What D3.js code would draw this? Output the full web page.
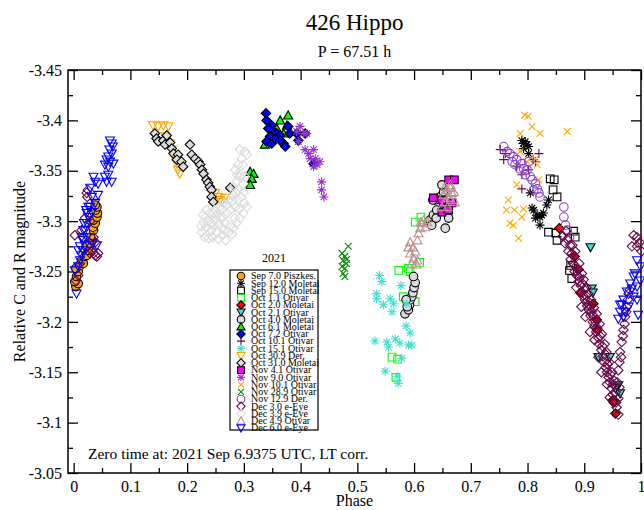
<!DOCTYPE html>
<html>
<head>
<meta charset="utf-8">
<script src="https://cdn.jsdelivr.net/npm/d3@7"></script>
<style>
  html, body { margin: 0; padding: 0; background: #fff; }
  svg text { font-family: "Liberation Serif", "Times New Roman", serif; fill: #000; }
</style>
</head>
<body>
<svg id="chart" width="644" height="510"></svg>
<script>
// ---- Lightcurve of 426 Hippo, folded with P = 67.51 h ----
// Each session: [phase, relative magnitude]

const sep07Piszkes = [[0.004,-3.235],[0.008,-3.238],[0.002,-3.240],[0.005,-3.245],[0.008,-3.250],[0.004,-3.253],[0.011,-3.256],[0.014,-3.261],[0.017,-3.258],[0.020,-3.265],[0.023,-3.266],[0.026,-3.271],[0.022,-3.275],[0.029,-3.278],[0.032,-3.281],[0.030,-3.284],[0.035,-3.291],[0.034,-3.294],[0.038,-3.298],[0.035,-3.301],[0.041,-3.304],[0.042,-3.308],[0.039,-3.311],[0.041,-3.314],[0.038,-3.316]];

const sep12Moletai = [[0.790,-3.380],[0.793,-3.377],[0.796,-3.379],[0.799,-3.376],[0.793,-3.372],[0.802,-3.374],[0.802,-3.367],[0.805,-3.328],[0.808,-3.313],[0.811,-3.311],[0.817,-3.306],[0.822,-3.304],[0.825,-3.306],[0.828,-3.308],[0.822,-3.296],[0.814,-3.303],[0.834,-3.316],[0.837,-3.321]];

const sep15Moletai = [[0.840,-3.342],[0.847,-3.341],[0.845,-3.331],[0.852,-3.324],[0.837,-3.289],[0.852,-3.281],[0.850,-3.288],[0.881,-3.290],[0.884,-3.284],[0.876,-3.256],[0.878,-3.243],[0.874,-3.251]];

const oct01Otivar = [[0.602,-3.299],[0.612,-3.304],[0.573,-3.251],[0.590,-3.253],[0.610,-3.259],[0.581,-3.225],[0.602,-3.220],[0.561,-3.165],[0.571,-3.163],[0.568,-3.145],[0.593,-3.250]];

const oct02Moletai = [[0.856,-3.293],[0.883,-3.265],[0.890,-3.252],[0.893,-3.229],[0.916,-3.218],[0.922,-3.202],[0.923,-3.192],[0.950,-3.122],[0.952,-3.120],[0.955,-3.109]];

const oct02Otivar = [[0.911,-3.274],[0.913,-3.233],[0.915,-3.229],[0.925,-3.165],[0.945,-3.165],[0.960,-3.137],[0.963,-3.129],[0.955,-3.134]];

const oct04Moletai = [[0.584,-3.208],[0.590,-3.212],[0.592,-3.217],[0.593,-3.222],[0.596,-3.225],[0.598,-3.229],[0.600,-3.234],[0.602,-3.239],[0.599,-3.245],[0.588,-3.215],[0.586,-3.222],[0.628,-3.301],[0.634,-3.306],[0.631,-3.296],[0.640,-3.311],[0.637,-3.321],[0.646,-3.324],[0.652,-3.329],[0.649,-3.336],[0.655,-3.293],[0.661,-3.303],[0.633,-3.321],[0.639,-3.303]];

const oct06Moletai = [[0.311,-3.349],[0.317,-3.347],[0.314,-3.342],[0.311,-3.336],[0.364,-3.400],[0.378,-3.405],[0.376,-3.395],[0.358,-3.392],[0.343,-3.380],[0.337,-3.376],[0.349,-3.385],[0.370,-3.387]];

const oct07Otivar = [[0.339,-3.407],[0.340,-3.400],[0.349,-3.395],[0.343,-3.392],[0.352,-3.389],[0.358,-3.387],[0.364,-3.385],[0.346,-3.384],[0.340,-3.379],[0.349,-3.377],[0.370,-3.377],[0.373,-3.374],[0.378,-3.394],[0.381,-3.387],[0.393,-3.387],[0.396,-3.380],[0.408,-3.387],[0.423,-3.357],[0.355,-3.382],[0.364,-3.380]];

const oct10Otivar = [[0.752,-3.371],[0.761,-3.367],[0.758,-3.361],[0.781,-3.354],[0.790,-3.332],[0.814,-3.359],[0.820,-3.367],[0.810,-3.361],[0.802,-3.351],[0.790,-3.346]];

const oct15Otivar = [[0.539,-3.246],[0.543,-3.240],[0.534,-3.228],[0.534,-3.223],[0.546,-3.217],[0.558,-3.223],[0.564,-3.218],[0.561,-3.210],[0.577,-3.236],[0.587,-3.218],[0.586,-3.196],[0.593,-3.189],[0.531,-3.181],[0.552,-3.180],[0.555,-3.175],[0.567,-3.183],[0.575,-3.179],[0.590,-3.177],[0.596,-3.177],[0.578,-3.164],[0.549,-3.151],[0.570,-3.146],[0.572,-3.139]];

const oct30Der = [[0.140,-3.395],[0.149,-3.394],[0.158,-3.395],[0.167,-3.394],[0.161,-3.384],[0.170,-3.377],[0.173,-3.371],[0.176,-3.364],[0.182,-3.357],[0.184,-3.351],[0.187,-3.347],[0.249,-3.328],[0.255,-3.324],[0.258,-3.321],[0.267,-3.323],[0.261,-3.319]];

const oct31Moletai = [[0.143,-3.387],[0.146,-3.382],[0.149,-3.379],[0.158,-3.380],[0.161,-3.376],[0.170,-3.378],[0.173,-3.372],[0.176,-3.367],[0.184,-3.366],[0.182,-3.361],[0.190,-3.359],[0.193,-3.354],[0.164,-3.385],[0.205,-3.376],[0.208,-3.366],[0.214,-3.362],[0.220,-3.359],[0.223,-3.356],[0.226,-3.351],[0.229,-3.347],[0.234,-3.341],[0.237,-3.338],[0.240,-3.334],[0.243,-3.331],[0.243,-3.324],[0.246,-3.319],[0.276,-3.333]];

const nov04Otivar = [[0.661,-3.341],[0.634,-3.323],[0.652,-3.314],[0.649,-3.309],[0.667,-3.318],[0.658,-3.313],[0.671,-3.341],[0.649,-3.321],[0.661,-3.311]];

const nov09Otivar = [[0.393,-3.389],[0.399,-3.394],[0.405,-3.387],[0.396,-3.379],[0.408,-3.371],[0.414,-3.367],[0.423,-3.371],[0.417,-3.362],[0.426,-3.362],[0.429,-3.356],[0.423,-3.354],[0.434,-3.359],[0.437,-3.339],[0.437,-3.331],[0.441,-3.324],[0.411,-3.387]];

const nov10Otivar = [[0.795,-3.405],[0.801,-3.404],[0.808,-3.394],[0.822,-3.387],[0.787,-3.387],[0.787,-3.369],[0.799,-3.359],[0.814,-3.362],[0.781,-3.336],[0.766,-3.321],[0.763,-3.311],[0.777,-3.311],[0.793,-3.312],[0.790,-3.304],[0.769,-3.298],[0.775,-3.296],[0.784,-3.283],[0.820,-3.341],[0.817,-3.356],[0.870,-3.389]];

const nov28Otivar = [[0.484,-3.275],[0.473,-3.268],[0.478,-3.265],[0.475,-3.261],[0.481,-3.258],[0.473,-3.255],[0.478,-3.253],[0.475,-3.248],[0.478,-3.245],[0.481,-3.262]];

const nov12Der = [[0.758,-3.374],[0.764,-3.369],[0.769,-3.367],[0.775,-3.364],[0.781,-3.361],[0.778,-3.356],[0.790,-3.357],[0.793,-3.352],[0.799,-3.351],[0.796,-3.346],[0.805,-3.344],[0.808,-3.341],[0.814,-3.337],[0.817,-3.332],[0.820,-3.328],[0.822,-3.324],[0.811,-3.331],[0.802,-3.359],[0.786,-3.352],[0.773,-3.359],[0.864,-3.314],[0.864,-3.304],[0.867,-3.296],[0.870,-3.291],[0.874,-3.284]];

const dec03EEye = [[0.002,-3.286],[0.025,-3.331],[0.023,-3.328],[0.024,-3.324],[0.020,-3.303],[0.029,-3.300],[0.035,-3.284],[0.038,-3.279],[0.032,-3.271],[0.035,-3.268],[0.038,-3.266],[0.041,-3.265],[0.043,-3.268],[0.029,-3.268],[0.011,-3.258],[0.008,-3.246],[0.004,-3.241],[0.017,-3.284],[0.014,-3.291],
  [0.862,-3.285],[0.866,-3.278],[0.870,-3.282],[0.872,-3.270],[0.875,-3.276],[0.876,-3.262],[0.878,-3.268],[0.880,-3.258],[0.882,-3.265],[0.883,-3.250],[0.885,-3.255],[0.887,-3.246],[0.889,-3.252],[0.890,-3.240],[0.892,-3.244],[0.894,-3.236],[0.895,-3.230],[0.897,-3.238],[0.898,-3.226],[0.900,-3.232],[0.901,-3.222],[0.903,-3.226],[0.905,-3.216],[0.906,-3.221],[0.908,-3.212],[0.910,-3.216],[0.911,-3.206],[0.913,-3.210],[0.915,-3.200],[0.916,-3.206],[0.918,-3.196],[0.920,-3.200],[0.921,-3.190],[0.923,-3.194],[0.925,-3.184],[0.926,-3.178],[0.928,-3.186],[0.930,-3.172],[0.932,-3.176],[0.933,-3.166],[0.935,-3.160],[0.937,-3.168],[0.938,-3.155],[0.940,-3.150],[0.941,-3.158],[0.943,-3.145],[0.945,-3.140],[0.946,-3.148],[0.948,-3.134],[0.950,-3.128],[0.951,-3.138],[0.953,-3.122],[0.955,-3.130],[0.957,-3.115],[0.960,-3.108],[0.960,-3.124],
  [0.895,-3.215],[0.910,-3.190],[0.925,-3.165],[0.940,-3.138],[0.930,-3.150],[0.945,-3.125],[0.886,-3.234],[0.902,-3.205],[0.918,-3.182],
  [0.868,-3.290],[0.879,-3.276],[0.884,-3.270],[0.891,-3.258],[0.896,-3.248],[0.899,-3.242],[0.904,-3.234],[0.907,-3.228],[0.912,-3.222],[0.917,-3.214],[0.922,-3.208],[0.927,-3.198],[0.931,-3.188],[0.936,-3.178],[0.939,-3.170],[0.944,-3.160],[0.949,-3.150],[0.952,-3.142],[0.956,-3.120],
  [0.958,-3.140],[0.960,-3.152],[0.962,-3.160],[0.963,-3.170],[0.965,-3.165],[0.966,-3.180],[0.968,-3.186],[0.969,-3.192],[0.971,-3.198],[0.972,-3.205],[0.974,-3.210],[0.975,-3.215],[0.977,-3.222],[0.978,-3.228],[0.980,-3.232],[0.962,-3.135],
  [0.987,-3.286],[0.993,-3.284],[0.984,-3.275],[0.993,-3.275],[0.998,-3.279],[1.001,-3.270]];

const dec03_9EEye = [[0.293,-3.371],[0.302,-3.369],[0.305,-3.366],[0.296,-3.362],[0.290,-3.356],[0.285,-3.351],[0.293,-3.344],[0.287,-3.339],[0.281,-3.334],[0.290,-3.331],[0.279,-3.326],[0.273,-3.321],[0.264,-3.318],[0.258,-3.314],[0.249,-3.311],[0.240,-3.308],[0.232,-3.304],[0.229,-3.299],[0.234,-3.294],[0.243,-3.291],[0.252,-3.289],[0.261,-3.293],[0.267,-3.298],[0.276,-3.296],[0.281,-3.293],[0.287,-3.298],[0.293,-3.303],[0.299,-3.308],[0.305,-3.314],[0.270,-3.308],[0.258,-3.303],[0.249,-3.301],[0.252,-3.306],[0.264,-3.304],[0.276,-3.311],[0.285,-3.314],[0.290,-3.321],[0.296,-3.324],[0.234,-3.311],[0.243,-3.298],[0.226,-3.289],[0.273,-3.289],[0.299,-3.337],[0.302,-3.344],
  [0.225,-3.295],[0.231,-3.284],[0.238,-3.283],[0.245,-3.284],[0.255,-3.282],[0.262,-3.286],[0.268,-3.281],[0.237,-3.300],[0.246,-3.296],[0.256,-3.297],[0.266,-3.291],[0.279,-3.287],[0.284,-3.303],[0.292,-3.312],[0.301,-3.318],[0.246,-3.308],[0.262,-3.312],[0.270,-3.316],[0.280,-3.320],[0.286,-3.328],[0.295,-3.346],[0.298,-3.356],[0.288,-3.346],[0.300,-3.329],[0.228,-3.306]];

const dec04Otivar = [[0.593,-3.279],[0.590,-3.274],[0.598,-3.274],[0.593,-3.268],[0.602,-3.270],[0.599,-3.263],[0.606,-3.261],[0.596,-3.258],[0.604,-3.257],[0.606,-3.281],[0.608,-3.288],[0.611,-3.293],[0.614,-3.298],[0.617,-3.301],[0.612,-3.299],[0.620,-3.294],[0.623,-3.299],[0.652,-3.326],[0.658,-3.331],[0.664,-3.333],[0.667,-3.328],[0.670,-3.329],[0.661,-3.323],[0.655,-3.319],[0.665,-3.321],[0.649,-3.314],[0.659,-3.314],[0.672,-3.319],[0.664,-3.336],[0.655,-3.334]];

const dec06EEye = [[0.005,-3.228],[0.002,-3.251],[0.008,-3.255],[0.011,-3.261],[0.014,-3.266],[0.017,-3.271],[0.020,-3.276],[0.016,-3.281],[0.023,-3.284],[0.020,-3.291],[0.023,-3.298],[0.026,-3.304],[0.022,-3.311],[0.029,-3.314],[0.032,-3.324],[0.029,-3.333],[0.043,-3.326],[0.035,-3.344],[0.038,-3.339],[0.043,-3.337],[0.055,-3.344],[0.061,-3.346],[0.067,-3.339],[0.058,-3.339],[0.064,-3.380],[0.067,-3.377],[0.063,-3.371],[0.067,-3.367],[0.061,-3.364],[0.058,-3.361],[0.064,-3.359],[0.070,-3.357],[0.055,-3.356],[0.061,-3.354],[0.069,-3.374],[0.034,-3.278],[0.041,-3.276],[0.011,-3.275],[0.008,-3.271],[0.014,-3.284],[0.017,-3.291],[0.018,-3.298],[0.026,-3.314],[0.023,-3.308],[0.032,-3.309],[0.038,-3.318],
  [0.993,-3.261],[0.999,-3.255],[0.987,-3.245],[0.981,-3.238],[0.984,-3.233],[0.975,-3.230],[0.969,-3.222],[0.966,-3.217],[0.963,-3.210],[0.972,-3.210],[0.978,-3.215],[0.987,-3.225],[0.993,-3.235],[0.999,-3.241],[0.960,-3.203],[0.969,-3.205],[0.989,-3.248],[0.995,-3.207],[0.993,-3.222],[0.963,-3.217]];

// Session labels, in drawing / legend order
const sessionLabels = ["Sep 7.0 Piszkes.","Sep 12.0 Moletai","Sep 15.0 Moletai","Oct 1.1 Otivar","Oct 2.0 Moletai","Oct 2.1 Otivar","Oct 4.0 Moletai","Oct 6.1 Moletai","Oct 7.2 Otivar","Oct 10.1 Otivar","Oct 15.1 Otivar","Oct 30.9 Der.","Oct 31.0 Moletai","Nov 4.1 Otivar","Nov 9.0 Otivar","Nov 10.1 Otivar","Nov 28.9 Otivar","Nov 12.9 Der.","Dec 3.0 e-Eye","Dec 3.9 e-Eye","Dec 4.9 Otivar","Dec 6.0 e-Eye"];
const sessionData = [sep07Piszkes, sep12Moletai, sep15Moletai, oct01Otivar, oct02Moletai, oct02Otivar, oct04Moletai, oct06Moletai, oct07Otivar, oct10Otivar, oct15Otivar, oct30Der, oct31Moletai, nov04Otivar, nov09Otivar, nov10Otivar, nov28Otivar, nov12Der, dec03EEye, dec03_9EEye, dec04Otivar, dec06EEye];

const xTicks = [0, 0.1, 0.2, 0.3, 0.4, 0.5, 0.6, 0.7, 0.8, 0.9, 1];
const yTicks = [-3.45, -3.4, -3.35, -3.3, -3.25, -3.2, -3.15, -3.1, -3.05];

// Marker styles per session: shape, fill, stroke
const markerStyles = [
  {shape:"circle",  fill:"#ffa500", stroke:"#000"},
  {shape:"star",    fill:"none",    stroke:"#000"},
  {shape:"square",  fill:"none",    stroke:"#000"},
  {shape:"square",  fill:"none",    stroke:"#00ff00"},
  {shape:"diamond", fill:"#ff0000", stroke:"#000"},
  {shape:"triDown", fill:"#40e0d0", stroke:"#000"},
  {shape:"circle",  fill:"#dcdcdc", stroke:"#000"},
  {shape:"triUp",   fill:"#00ff00", stroke:"#000"},
  {shape:"diamond", fill:"#0000ff", stroke:"#000"},
  {shape:"plus",    fill:"none",    stroke:"#670748"},
  {shape:"star",    fill:"none",    stroke:"#40e0d0"},
  {shape:"triDown", fill:"none",    stroke:"#ffa500"},
  {shape:"diamond", fill:"#dcdcdc", stroke:"#000"},
  {shape:"square",  fill:"#ff00ff", stroke:"#000"},
  {shape:"star",    fill:"none",    stroke:"#9932cc"},
  {shape:"cross",   fill:"none",    stroke:"#ffa500"},
  {shape:"cross",   fill:"none",    stroke:"#008b00"},
  {shape:"circle",  fill:"none",    stroke:"#8a3fd0"},
  {shape:"diamond", fill:"none",    stroke:"#670748"},
  {shape:"diamond", fill:"none",    stroke:"#dcdcdc"},
  {shape:"triUp",   fill:"none",    stroke:"#bc8f8f"},
  {shape:"triDown", fill:"none",    stroke:"#0000ff"}
];

const W = 644, H = 510;
const plot = {left: 68, right: 641, top: 70, bottom: 473};

const x = d3.scaleLinear().domain([-0.01, 1.0]).range([plot.left, plot.right]);
const y = d3.scaleLinear().domain([-3.45, -3.05]).range([plot.top, plot.bottom]);

const svg = d3.select("#chart");

function markerPath(shape, s) {
  switch (shape) {
    case "circle": { const r = s * 0.95; return `M${r},0A${r},${r} 0 1,1 ${-r},0A${r},${r} 0 1,1 ${r},0Z`; }
    case "square": { const h = s * 0.85; return `M${-h},${-h}H${h}V${h}H${-h}Z`; }
    case "diamond": { const h = s * 1.05; return `M0,${-h}L${h},0L0,${h}L${-h},0Z`; }
    case "triUp": { const h = s; return `M0,${-h}L${h},${h*0.8}L${-h},${h*0.8}Z`; }
    case "triDown": { const h = s; return `M0,${h}L${h},${-h*0.8}L${-h},${-h*0.8}Z`; }
    case "plus": { const h = s; return `M${-h},0H${h}M0,${-h}V${h}`; }
    case "cross": { const h = s * 0.75; return `M${-h},${-h}L${h},${h}M${-h},${h}L${h},${-h}`; }
    case "star": { const h = s, k = s * 0.72; return `M${-h},0H${h}M0,${-h}V${h}M${-k},${-k}L${k},${k}M${-k},${k}L${k},${-k}`; }
  }
}

// Frame
svg.append("rect")
  .attr("x", plot.left).attr("y", plot.top)
  .attr("width", plot.right - plot.left).attr("height", plot.bottom - plot.top)
  .attr("fill", "none").attr("stroke", "#000").attr("stroke-width", 1.5);

// Axes: major ticks inward with labels, minor ticks between
const xMinor = xTicks.slice(0, -1).map(v => +(v + 0.05).toFixed(2));
const yMinor = yTicks.slice(0, -1).map(v => +(v + 0.025).toFixed(3));
const fmt = d => String(+(+d).toFixed(2));

function styleAxis(g) {
  g.select(".domain").remove();
  g.selectAll(".tick line").attr("stroke", "#000").attr("stroke-width", 1.3);
  g.selectAll(".tick text").attr("font-family", "Liberation Serif, serif").attr("font-size", 16).attr("fill", "#000");
}

svg.append("g").attr("transform", `translate(0,${plot.bottom})`)
  .call(d3.axisBottom(x).tickValues(xTicks).tickFormat(fmt).tickSizeInner(-10).tickSizeOuter(0).tickPadding(8))
  .call(styleAxis);
svg.append("g").attr("transform", `translate(0,${plot.bottom})`)
  .call(d3.axisBottom(x).tickValues(xMinor).tickFormat("").tickSizeInner(-5).tickSizeOuter(0))
  .call(styleAxis);
svg.append("g").attr("transform", `translate(0,${plot.top})`)
  .call(d3.axisTop(x).tickValues(xTicks).tickFormat("").tickSizeInner(-10).tickSizeOuter(0))
  .call(styleAxis);
svg.append("g").attr("transform", `translate(0,${plot.top})`)
  .call(d3.axisTop(x).tickValues(xMinor).tickFormat("").tickSizeInner(-5).tickSizeOuter(0))
  .call(styleAxis);

svg.append("g").attr("transform", `translate(${plot.left},0)`)
  .call(d3.axisLeft(y).tickValues(yTicks).tickFormat(fmt).tickSizeInner(-10).tickSizeOuter(0).tickPadding(6))
  .call(styleAxis);
svg.append("g").attr("transform", `translate(${plot.left},0)`)
  .call(d3.axisLeft(y).tickValues(yMinor).tickFormat("").tickSizeInner(-5).tickSizeOuter(0))
  .call(styleAxis);
svg.append("g").attr("transform", `translate(${plot.right},0)`)
  .call(d3.axisRight(y).tickValues(yTicks).tickFormat("").tickSizeInner(-10).tickSizeOuter(0))
  .call(styleAxis);
svg.append("g").attr("transform", `translate(${plot.right},0)`)
  .call(d3.axisRight(y).tickValues(yMinor).tickFormat("").tickSizeInner(-5).tickSizeOuter(0))
  .call(styleAxis);

// Titles
svg.append("text").attr("x", (plot.left + plot.right) / 2).attr("y", 30)
  .attr("text-anchor", "middle").attr("font-size", 23).text("426 Hippo");
svg.append("text").attr("x", (plot.left + plot.right) / 2).attr("y", 57)
  .attr("text-anchor", "middle").attr("font-size", 16).text("P = 67.51 h");
svg.append("text").attr("x", (plot.left + plot.right) / 2).attr("y", 506)
  .attr("text-anchor", "middle").attr("font-size", 16).text("Phase");
svg.append("text").attr("transform", `translate(25,${(plot.top + plot.bottom) / 2}) rotate(-90)`)
  .attr("text-anchor", "middle").attr("font-size", 16).text("Relative C and R magnitude");
svg.append("text").attr("x", 88).attr("y", 459)
  .attr("font-size", 15.5).text("Zero time at: 2021 Sep 6.9375 UTC, LT corr.");

// Data markers
const markers = svg.append("g");
sessionData.forEach((pts, i) => {
  const st = markerStyles[i];
  markers.append("g").selectAll("path").data(pts).join("path")
    .attr("transform", d => `translate(${x(d[0])},${y(d[1])})`)
    .attr("d", markerPath(st.shape, 4.5))
    .attr("fill", st.fill)
    .attr("stroke", st.stroke)
    .attr("stroke-width", 1.1);
});

// Legend
const leg = {x: 230, y: 270, w: 88, h: 160, step: 7.24};
svg.append("text").attr("x", 274).attr("y", 262).attr("text-anchor", "middle")
  .attr("font-size", 12).text("2021");
svg.append("rect").attr("x", leg.x).attr("y", leg.y).attr("width", leg.w).attr("height", leg.h)
  .attr("fill", "#fff").attr("stroke", "#000").attr("stroke-width", 1.2);
const legItems = svg.append("g").selectAll("g").data(sessionLabels).join("g")
  .attr("transform", (d, i) => `translate(${leg.x + 11},${leg.y + 6 + i * leg.step})`);
legItems.append("path")
  .attr("d", (d, i) => markerPath(markerStyles[i].shape, 4))
  .attr("fill", (d, i) => markerStyles[i].fill)
  .attr("stroke", (d, i) => markerStyles[i].stroke)
  .attr("stroke-width", 1.1);
legItems.append("text").attr("x", 10).attr("y", 3.3)
  .attr("font-size", 10).text(d => d);
</script>
</body>
</html>
